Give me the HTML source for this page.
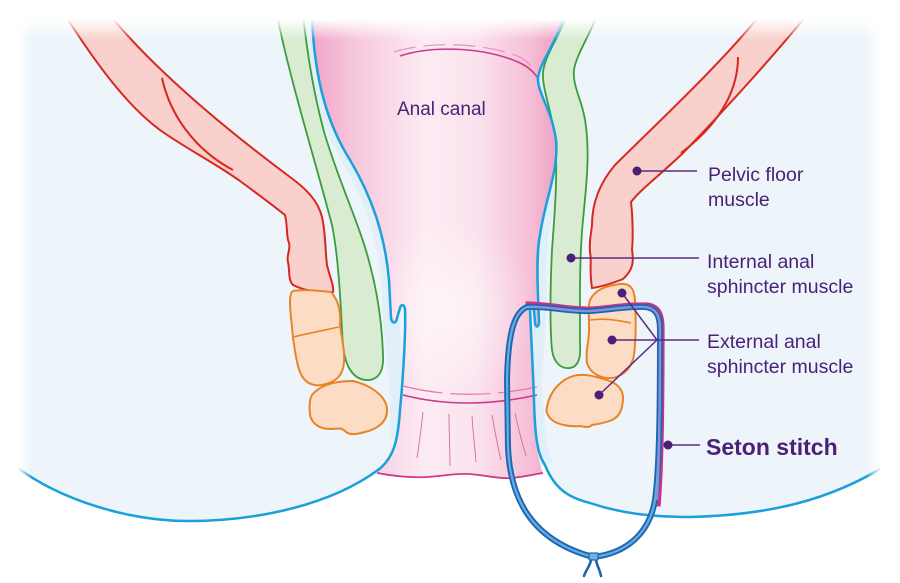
<!DOCTYPE html>
<html>
<head>
<meta charset="utf-8">
<style>
html,body{margin:0;padding:0;background:#fff;}
svg{display:block;}
text{font-family:"Liberation Sans",sans-serif;fill:#4a2178;}
</style>
</head>
<body>
<svg width="900" height="583" viewBox="0 0 900 583" xmlns="http://www.w3.org/2000/svg">
<defs>
  <linearGradient id="pinkH" gradientUnits="userSpaceOnUse" x1="310" y1="0" x2="565" y2="0">
    <stop offset="0" stop-color="#f0a3c6"/>
    <stop offset="0.18" stop-color="#f7c8dd"/>
    <stop offset="0.45" stop-color="#fcebf3"/>
    <stop offset="0.65" stop-color="#fbe3ee"/>
    <stop offset="0.86" stop-color="#f5bfd7"/>
    <stop offset="1" stop-color="#ec98be"/>
  </linearGradient>
  <radialGradient id="pinkGlow" gradientUnits="userSpaceOnUse" cx="450" cy="310" r="90">
    <stop offset="0" stop-color="#ffffff" stop-opacity="0.55"/>
    <stop offset="1" stop-color="#ffffff" stop-opacity="0"/>
  </radialGradient>
  <linearGradient id="fadeTop" x1="0" y1="0" x2="0" y2="1">
    <stop offset="0.45" stop-color="#fff" stop-opacity="1"/>
    <stop offset="0.95" stop-color="#fff" stop-opacity="0"/>
  </linearGradient>
  <linearGradient id="fadeLeft" x1="0" y1="0" x2="1" y2="0">
    <stop offset="0.55" stop-color="#fff" stop-opacity="1"/>
    <stop offset="1" stop-color="#fff" stop-opacity="0"/>
  </linearGradient>
  <linearGradient id="fadeRight" x1="0" y1="0" x2="1" y2="0">
    <stop offset="0" stop-color="#fff" stop-opacity="0"/>
    <stop offset="0.45" stop-color="#fff" stop-opacity="1"/>
  </linearGradient>
</defs>

<rect width="900" height="583" fill="#fff"/>

<!-- tissue -->
<path d="M15,15 H885 V468 C 830,500 770,515 690,517 C 650,517 620,513 590,503 C 570,498 555,490 545,465 L380,469 C 330,505 260,520 193,521 C 130,522 60,500 15,466 Z" fill="#edf5fa"/>

<!-- light strips near walls -->
<path d="M312,15 C 314,80 328,125 350,160 C 372,197 385,235 389,280 L391,318 C 395,360 400,400 398,440" fill="none" stroke="#e1eff8" stroke-width="16"/>
<path d="M565,15 C 555,45 540,62 538,78 C 537,92 552,110 556,140 C 559,170 545,200 540,240 C 537,265 538,285 539,300 L534,380 C 535,420 538,450 545,465" fill="none" stroke="#e1eff8" stroke-width="16"/>

<!-- green internal sphincter -->
<path d="M277,15 C 290,80 315,160 332,225 C 340,265 341,320 343,345 C 345,365 352,378 365,380 C 378,381 384,372 383,355 C 382,325 378,295 370,265 C 360,225 340,185 325,135 C 315,100 308,60 303,15 Z" fill="#d9ecd2" stroke="#3b9b3d" stroke-width="1.8"/>
<path d="M567,15 C 560,35 545,55 543,72 C 542,90 552,110 555,140 C 558,170 555,210 552,250 C 550,290 550,330 552,350 C 554,364 562,369 570,368 C 578,367 581,358 580,345 C 580,310 579,260 583,220 C 587,180 590,150 585,120 C 582,100 572,85 574,70 C 576,55 590,35 597,15 Z" fill="#d9ecd2" stroke="#3b9b3d" stroke-width="1.8"/>

<!-- red pelvic floor -->
<path d="M65,15 L110,15 C 150,65 220,125 290,177 C 305,188 318,200 322,217 C 326,235 325,250 327,265 C 330,278 334,285 333,292 C 320,293 305,291 293,285 C 288,280 290,272 288,262 C 286,255 291,250 289,243 C 286,236 288,228 285,215 C 270,203 255,192 240,181 C 215,163 185,148 160,130 C 130,108 100,70 65,15 Z" fill="#f9d0cc" stroke="#d7281f" stroke-width="2"/>
<path d="M162,78 C 170,115 195,150 233,170" fill="none" stroke="#d7281f" stroke-width="2"/>
<path d="M760,15 L807,15 C 770,60 720,115 683,153 C 660,175 640,190 631,202 C 633,220 633,240 632,250 C 634,262 633,270 623,279 C 613,283 600,287 592,288 C 589,270 592,262 590,252 C 589,240 591,235 592,225 C 592,205 598,185 615,165 C 650,130 720,65 760,15 Z" fill="#f9d0cc" stroke="#d7281f" stroke-width="2"/>
<path d="M738,57 C 738,85 725,120 681,153" fill="none" stroke="#d7281f" stroke-width="2"/>

<!-- orange external sphincter -->
<path d="M293,291 C 305,289 320,291 331,292 C 338,300 341,310 340,325 C 342,340 345,352 344,362 C 343,375 337,382 322,385 C 310,387 303,380 300,372 C 296,362 295,350 293,338 C 292,325 290,312 290,303 C 290,296 291,292 293,291 Z" fill="#fcdcc4" stroke="#e8832a" stroke-width="2"/>
<path d="M293,337 C 310,333 325,330 339,327" fill="none" stroke="#e8832a" stroke-width="1.6"/>
<path d="M312,395 C 320,385 335,381 353,381 C 370,385 385,395 387,408 C 388,420 380,428 365,432 C 357,434 350,436 345,431 C 341,427 337,429 330,429 C 320,429 312,424 310,415 C 309,405 310,398 312,395 Z" fill="#fcdcc4" stroke="#e8832a" stroke-width="2"/>
<path d="M590,300 C 595,290 605,286 620,284 C 630,283 634,288 635,300 C 636,320 636,340 634,355 C 632,367 625,375 613,378 C 600,379 590,373 587,363 C 585,350 590,340 589,325 C 589,315 588,306 590,300 Z" fill="#fcdcc4" stroke="#e8832a" stroke-width="2"/>
<path d="M590,320 C 603,318 618,320 631,323" fill="none" stroke="#e8832a" stroke-width="1.6"/>
<path d="M547,407 C 550,390 563,377 578,375 C 590,374 598,378 607,380 C 617,383 624,390 623,400 C 622,410 620,416 612,420 C 605,423 598,424 592,425 C 589,428 585,427 580,426 C 570,427 556,425 550,418 C 546,413 546,410 547,407 Z" fill="#fcdcc4" stroke="#e8832a" stroke-width="2"/>

<!-- anal canal pink -->
<path d="M312,15 C 314,80 328,125 350,160 C 372,197 385,235 389,280 L391,318 C 392,324 396,324 397,318 L400,308 C 401,304 404,304 405,309 C 406,330 403,380 400,410 C 398,440 394,458 380,469 L377,473 C 395,476 410,478 427,477 C 445,476 455,473 470,474 C 490,476 500,479 510,478 C 525,477 535,474 543,473 C 538,462 535,440 534,400 C 533,370 531,335 530,310 C 530,305 533,305 534,310 L535,322 C 535,328 539,328 539,322 L538,296 C 537,270 537,250 540,235 C 545,200 559,170 556,140 C 552,110 537,92 538,78 C 540,62 555,45 565,15 Z" fill="url(#pinkH)"/>
<path d="M312,15 C 314,80 328,125 350,160 C 372,197 385,235 389,280 L391,318 C 392,324 396,324 397,318 L400,308 C 401,304 404,304 405,309 C 406,330 403,380 400,410 C 398,440 394,458 380,469 L377,473 C 395,476 410,478 427,477 C 445,476 455,473 470,474 C 490,476 500,479 510,478 C 525,477 535,474 543,473 C 538,462 535,440 534,400 C 533,370 531,335 530,310 C 530,305 533,305 534,310 L535,322 C 535,328 539,328 539,322 L538,296 C 537,270 537,250 540,235 C 545,200 559,170 556,140 C 552,110 537,92 538,78 C 540,62 555,45 565,15 Z" fill="url(#pinkGlow)"/>

<!-- canal top arc -->
<path d="M394,52 C 425,42 480,41 520,57 C 527,61 532,67 535,72" fill="none" stroke="#eb8fbd" stroke-width="1.2" stroke-dasharray="22 8"/>
<path d="M400,56 C 430,46 480,46 518,62 C 527,66 533,71 537,77" fill="none" stroke="#c93a8a" stroke-width="1.5"/>

<!-- verge lines -->
<path d="M403,386 Q 465,402 537,387" fill="none" stroke="#e27ab0" stroke-width="1.2" stroke-dasharray="40 8"/>
<path d="M403,395 Q 465,411 537,395" fill="none" stroke="#c93a8a" stroke-width="1.5"/>
<g fill="none" stroke="#d46aa2" stroke-width="0.9">
  <path d="M423,412 C 421,430 419,445 417,458"/>
  <path d="M449,414 C 449,432 450,450 450,466"/>
  <path d="M472,416 C 473,432 475,448 476,462"/>
  <path d="M492,415 C 495,432 498,448 501,460"/>
  <path d="M515,413 C 518,428 522,442 526,456"/>
</g>
<path d="M377,473 C 395,476 410,478 427,477 C 445,476 455,473 470,474 C 490,476 500,479 510,478 C 525,477 535,474 543,473" fill="none" stroke="#d0388a" stroke-width="1.8"/>

<!-- canal walls (blue) -->
<path d="M312,15 C 314,80 328,125 350,160 C 372,197 385,235 389,280 L391,318 C 392,324 396,324 397,318 L400,308 C 401,304 404,304 405,309 C 406,330 403,380 400,410 C 398,440 394,458 378,470 C 330,505 260,520 193,521 C 130,522 60,500 15,466" fill="none" stroke="#1aa0dc" stroke-width="2.5"/>
<path d="M565,15 C 555,45 540,62 538,78 C 537,92 552,110 556,140 C 559,170 545,200 540,235 C 537,250 537,270 538,296 L539,322 C 539,328 535,328 535,322 L534,310 C 533,305 530,305 530,310 C 531,335 533,370 534,400 C 535,440 538,455 545,465 C 555,490 570,498 590,503 C 620,513 650,517 690,517 C 770,515 830,500 885,466" fill="none" stroke="#1aa0dc" stroke-width="2.5"/>

<!-- fades -->
<rect x="0" y="0" width="900" height="42" fill="url(#fadeTop)"/>
<rect x="0" y="0" width="32" height="583" fill="url(#fadeLeft)"/>
<rect x="866" y="0" width="34" height="583" fill="url(#fadeRight)"/>

<!-- seton stitch -->
<path d="M524,306 C 545,306 560,310 583,311 C 600,312 620,306 645,307 C 656,308 660,315 660,330 C 660,420 659,470 656,508" fill="none" stroke="#c9338a" stroke-width="6" transform="translate(1.6,-1.6)"/>
<path d="M527,307 C 515,312 508,330 507,380 L508,447 C 510,497 530,540 593,557 C 630,553 650,530 655,500 C 659,470 660,420 660,330 C 660,315 656,308 645,307 C 620,306 600,312 583,311 C 560,310 545,306 527,307 Z" fill="none" stroke="#1f66b0" stroke-width="6"/>
<path d="M527,307 C 515,312 508,330 507,380 L508,447 C 510,497 530,540 593,557 C 630,553 650,530 655,500 C 659,470 660,420 660,330 C 660,315 656,308 645,307 C 620,306 600,312 583,311 C 560,310 545,306 527,307 Z" fill="none" stroke="#68ace4" stroke-width="2.2"/>
<path d="M530,307 C 545,306 560,310 583,311 C 600,312 620,306 645,307 C 656,308 660,315 660,330 C 660,420 659,470 657,500" fill="none" stroke="#8a8fdb" stroke-width="2.2"/>
<path d="M591,560 C 590,566 586,570 584,576" fill="none" stroke="#1f66b0" stroke-width="2.6" stroke-linecap="round"/>
<path d="M596,560 C 597,566 600,570 601,576" fill="none" stroke="#1f66b0" stroke-width="2.6" stroke-linecap="round"/>
<rect x="589" y="553" width="9" height="7" rx="1" fill="#6db0e5" stroke="#1f66b0" stroke-width="1.2"/>

<!-- label leaders -->
<g stroke="#5a2d82" stroke-width="1.5" fill="none">
  <path d="M637,171 H697"/>
  <path d="M571,258 H699"/>
  <path d="M622,293 L657,340 M612,340 H699 M599,395 L657,340"/>
  <path d="M668,445 H700"/>
</g>
<g fill="#4b1f77">
  <circle cx="637" cy="171" r="4.5"/>
  <circle cx="571" cy="258" r="4.5"/>
  <circle cx="622" cy="293" r="4.5"/>
  <circle cx="612" cy="340" r="4.5"/>
  <circle cx="599" cy="395" r="4.5"/>
  <circle cx="668" cy="445" r="4.5"/>
</g>

<!-- text -->
<text x="397" y="115" font-size="19">Anal canal</text>
<text x="708" y="181" font-size="19.5">Pelvic floor</text>
<text x="708" y="206" font-size="19.5">muscle</text>
<text x="707" y="268" font-size="19.5">Internal anal</text>
<text x="707" y="293" font-size="19.5">sphincter muscle</text>
<text x="707" y="348" font-size="19.5">External anal</text>
<text x="707" y="373" font-size="19.5">sphincter muscle</text>
<text x="706" y="455" font-size="23" font-weight="bold">Seton stitch</text>
</svg>
</body>
</html>
